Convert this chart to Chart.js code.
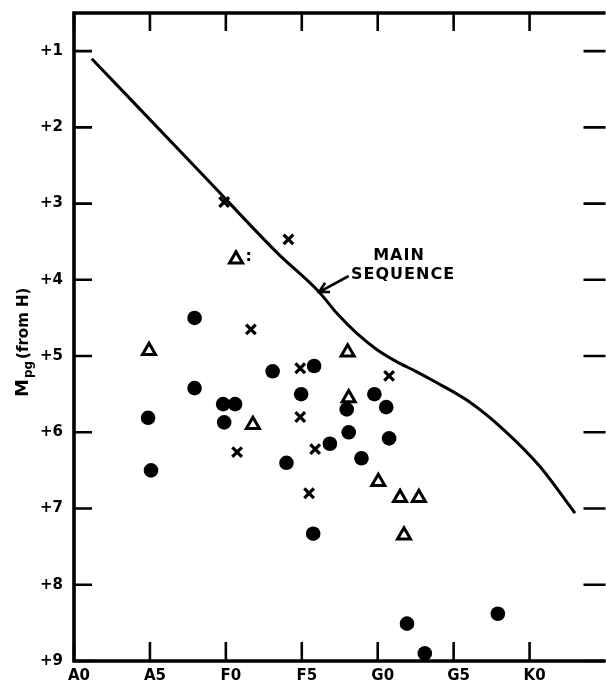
<!DOCTYPE html>
<html>
<head>
<meta charset="utf-8">
<script src="https://cdn.jsdelivr.net/npm/chart.js@4/dist/chart.umd.min.js"></script>
<style>
  html, body { margin: 0; padding: 0; background: #fff; overflow: hidden; }
  canvas { display: block; }
</style>
</head>
<body>
<canvas id="hrChart" width="616" height="684"></canvas>
<script>
// spectral subclass index: A0 = 0, A5 = 5, F0 = 10, F5 = 15, G0 = 20, G5 = 25, K0 = 30
const spectralLabels = ['A0', 'A5', 'F0', 'F5', 'G0', 'G5', 'K0'];

// main sequence curve (spectral index, Mpg)
const mainSeqX = [1.17, 8.85, 13.4, 16.14, 17.31, 18.61, 19.91, 21.21, 22.51, 23.81, 25.96, 28.37, 30.64, 32.99];
const mainSeqY = [1.10, 2.70, 3.65, 4.16, 4.44, 4.70, 4.91, 5.07, 5.20, 5.34, 5.59, 5.98, 6.44, 7.06];

// filled circles
const dotX = [7.94, 13.08, 7.94, 9.82, 10.61, 4.88, 9.89, 5.07, 13.99, 15.81, 14.96, 19.78,
              17.96, 20.56, 18.09, 16.85, 20.75, 18.93, 15.75, 21.93, 23.10, 27.91];
const dotY = [4.50, 5.20, 5.42, 5.63, 5.63, 5.81, 5.87, 6.50, 6.40, 5.13, 5.50, 5.50,
              5.70, 5.67, 6.00, 6.15, 6.08, 6.34, 7.33, 8.51, 8.90, 8.38];

// crosses
const crossX = [9.89, 11.65, 14.12, 14.90, 20.75, 14.90, 10.74, 15.88, 15.48];
const crossY = [2.98, 4.65, 3.47, 5.16, 5.26, 5.80, 6.26, 6.22, 6.80];

// open triangles
const triX = [4.94, 10.67, 11.78, 18.02, 18.09, 20.04, 21.47, 22.71, 21.73];
const triY = [4.93, 3.73, 5.90, 4.95, 5.55, 6.65, 6.86, 6.86, 7.35];

const yTicks = [1, 2, 3, 4, 5, 6, 7, 8, 9];

function toPoints(xs, ys) {
    return xs.map((x, i) => ({x: x, y: ys[i]}));
}

const FONT = 'DejaVu Sans';

// frame, inward tick marks, title and the "main sequence" note
const framePlugin = {
    id: 'frame',
    afterDatasetsDraw(chart) {
        const {ctx, chartArea: a, scales: {x, y}} = chart;
        ctx.save();
        ctx.strokeStyle = '#000';
        ctx.lineCap = 'butt';

        // tick marks
        ctx.lineWidth = 2.6;
        ctx.beginPath();
        yTicks.forEach(v => {
            const py = y.getPixelForValue(v);
            ctx.moveTo(a.left, py); ctx.lineTo(a.left + 18, py);
            ctx.moveTo(a.right, py); ctx.lineTo(a.right - 22, py);
        });
        spectralLabels.forEach((s, i) => {
            const px = x.getPixelForValue(i * 5);
            ctx.moveTo(px, a.bottom); ctx.lineTo(px, a.bottom - 19);
            ctx.moveTo(px, a.top); ctx.lineTo(px, a.top + 18);
        });
        ctx.stroke();

        // frame
        ctx.lineWidth = 3.6;
        ctx.beginPath();
        ctx.moveTo(a.right, a.top);
        ctx.lineTo(a.left, a.top);
        ctx.lineTo(a.left, a.bottom);
        ctx.lineTo(a.right, a.bottom);
        ctx.stroke();

        // note on the curve
        ctx.fillStyle = '#000';
        ctx.font = 'bold 16px ' + FONT;
        ctx.letterSpacing = '1px';
        ctx.textAlign = 'center';
        ctx.textBaseline = 'middle';
        ctx.fillText('MAIN', x.getPixelForValue(21.4), y.getPixelForValue(3.69));
        ctx.fillText('SEQUENCE', x.getPixelForValue(21.67), y.getPixelForValue(3.94));
        ctx.letterSpacing = '0px';

        const tx = x.getPixelForValue(18.09), ty = y.getPixelForValue(3.95);
        const hx = x.getPixelForValue(16.14), hy = y.getPixelForValue(4.16);
        const ang = Math.atan2(ty - hy, tx - hx);
        ctx.lineWidth = 2.6;
        ctx.beginPath();
        ctx.moveTo(tx, ty); ctx.lineTo(hx, hy);
        ctx.moveTo(hx + 11 * Math.cos(ang - 0.5), hy + 11 * Math.sin(ang - 0.5));
        ctx.lineTo(hx, hy);
        ctx.lineTo(hx + 11 * Math.cos(ang + 0.5), hy + 11 * Math.sin(ang + 0.5));
        ctx.stroke();

        // uncertain mark next to one triangle
        ctx.font = 'bold 16px ' + FONT;
        ctx.fillText(':', x.getPixelForValue(11.5), y.getPixelForValue(3.70));

        // y title: M_pg (from H)
        ctx.translate(28, 397);
        ctx.rotate(-Math.PI / 2);
        ctx.textAlign = 'left';
        ctx.textBaseline = 'alphabetic';
        ctx.font = 'bold 18px ' + FONT;
        ctx.fillText('M', 0, 0);
        let w = ctx.measureText('M').width;
        ctx.font = 'bold 12px ' + FONT;
        ctx.fillText('pg', w + 1, 4);
        w += ctx.measureText('pg').width + 3;
        ctx.font = 'bold 15px ' + FONT;
        ctx.fillText('(from H)', w, 0);
        ctx.restore();
    }
};

new Chart(document.getElementById('hrChart'), {
    type: 'scatter',
    data: {
        datasets: [{
            label: 'Main sequence',
            data: toPoints(mainSeqX, mainSeqY),
            showLine: true,
            borderColor: '#000',
            borderWidth: 3,
            pointRadius: 0,
            cubicInterpolationMode: 'monotone',
            fill: false
        }, {
            label: 'dots',
            data: toPoints(dotX, dotY),
            pointStyle: 'circle',
            pointRadius: 7.3,
            backgroundColor: '#000',
            borderWidth: 0
        }, {
            label: 'crosses',
            data: toPoints(crossX, crossY),
            pointStyle: 'crossRot',
            pointRadius: 6.8,
            borderColor: '#000',
            borderWidth: 3.2
        }, {
            label: 'triangles',
            data: toPoints(triX, triY),
            pointStyle: 'triangle',
            pointRadius: 7.5,
            backgroundColor: '#fff',
            borderColor: '#000',
            borderWidth: 3
        }]
    },
    options: {
        responsive: false,
        animation: false,
        devicePixelRatio: 1,
        layout: {padding: {top: 13, right: 4, bottom: 0, left: 0}},
        plugins: {legend: {display: false}, tooltip: {enabled: false}},
        scales: {
            x: {
                type: 'linear',
                min: 0,
                max: 35,
                grid: {display: false, drawTicks: false},
                border: {display: false},
                afterFit: s => { s.height = 23; s.paddingLeft = 0; s.paddingRight = 0; },
                ticks: {
                    stepSize: 5,
                    padding: 6,
                    labelOffset: 5,
                    maxRotation: 0,
                    color: '#000',
                    font: {family: FONT, weight: 'bold', size: 15},
                    callback: v => spectralLabels[v / 5] || ''
                }
            },
            y: {
                type: 'linear',
                reverse: true,
                min: 0.5,
                max: 9,
                grid: {display: false, drawTicks: false},
                border: {display: false},
                afterFit: s => { s.width = 74; s.paddingTop = 0; s.paddingBottom = 0; },
                ticks: {
                    stepSize: 1,
                    padding: 11,
                    color: '#000',
                    font: {family: FONT, weight: 'bold', size: 15},
                    callback: v => yTicks.includes(v) ? '+' + v : ''
                }
            }
        }
    },
    plugins: [framePlugin]
});
</script>
</body>
</html>
